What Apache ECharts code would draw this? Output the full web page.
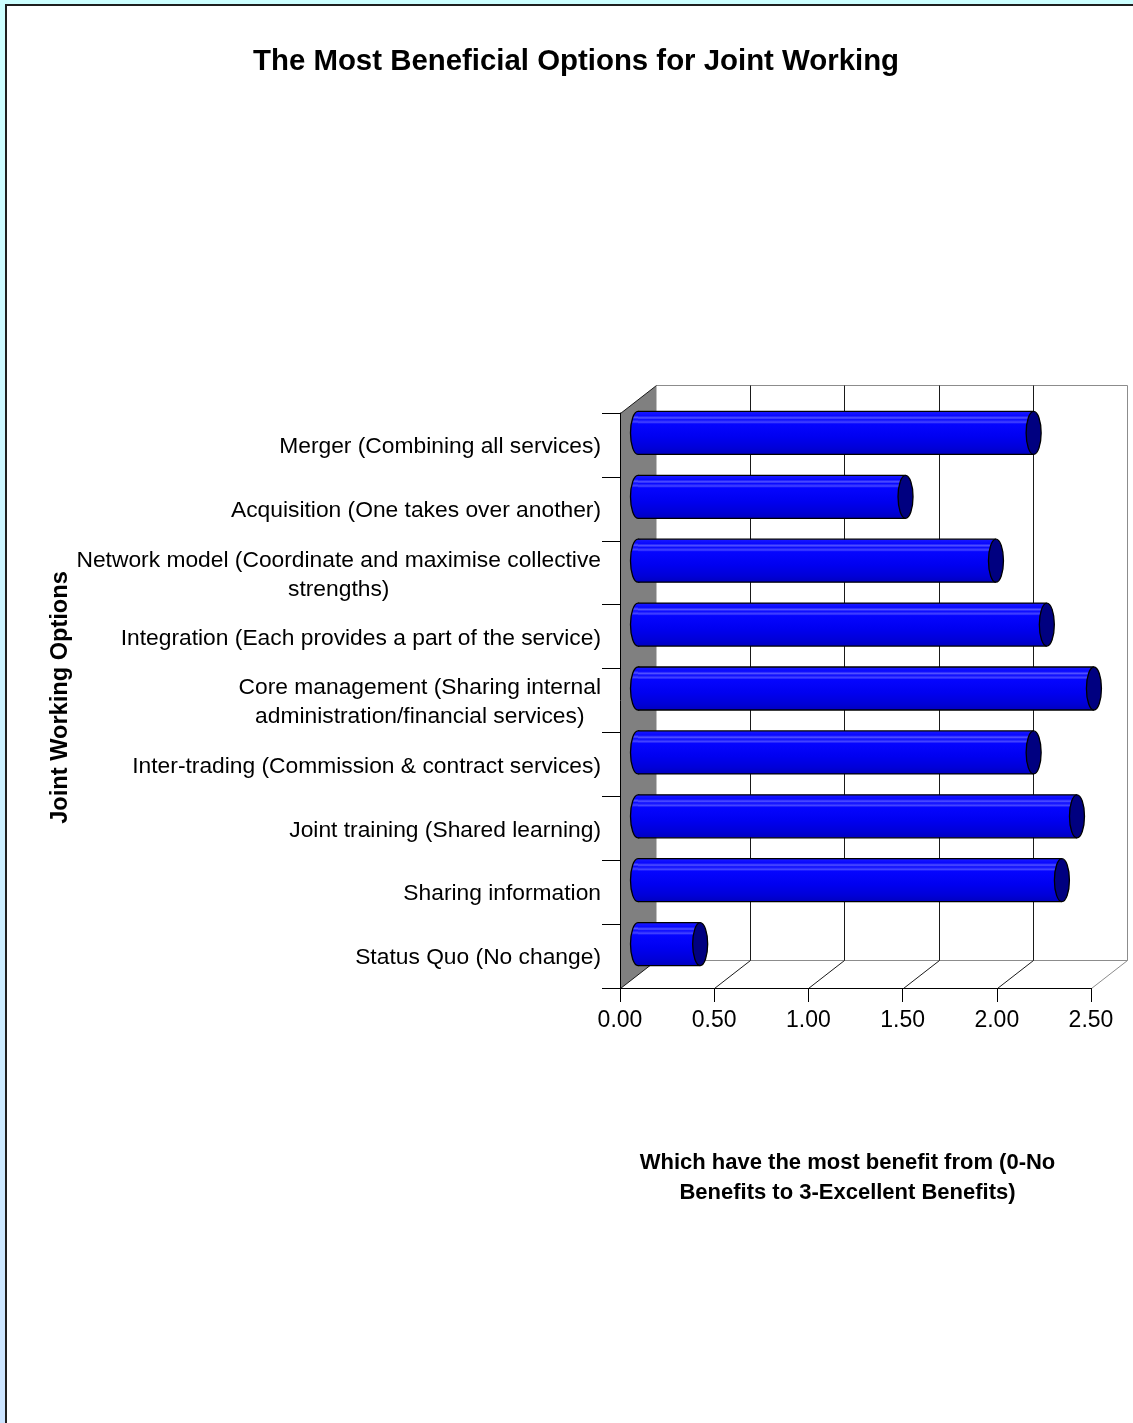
<!DOCTYPE html>
<html><head><meta charset="utf-8">
<script src="https://cdn.jsdelivr.net/npm/echarts@6/dist/echarts.min.js"></script>
<style>
html,body{margin:0;padding:0;background:#fff;}
#chart{position:absolute;left:0;top:0;width:1133px;height:1423px;}
.f{position:absolute;pointer-events:none;}
</style></head><body>
<div id="chart"></div>
<div class="f" style="left:0;top:0;width:1133px;height:4px;background:#ccffff"></div>
<div class="f" style="left:0;top:0;width:5px;height:1423px;background:linear-gradient(#ccffff,#cce4ff)"></div>
<div class="f" style="left:5px;top:4px;width:1128px;height:2px;background:#1f1f1f"></div>
<div class="f" style="left:5px;top:4px;width:2px;height:1419px;background:#1f1f1f"></div>
<script>
const titleText = 'The Most Beneficial Options for Joint Working';
const xAxisName = 'Which have the most benefit from (0-No\nBenefits to 3-Excellent Benefits)';
const yAxisName = 'Joint Working Options';
const categories = [
  'Merger (Combining all services)',
  'Acquisition (One takes over another)',
  'Network model (Coordinate and maximise collective\nstrengths)',
  'Integration (Each provides a part of the service)',
  'Core management (Sharing internal\nadministration/financial services)',
  'Inter-trading (Commission & contract services)',
  'Joint training (Shared learning)',
  'Sharing information',
  'Status Quo (No change)'
];
const values = [2.10, 1.42, 1.90, 2.17, 2.42, 2.10, 2.33, 2.25, 0.33];
const xTicks = [0, 0.5, 1, 1.5, 2, 2.5];

const FONT = '"Liberation Sans", Arial, sans-serif';
const DX = 36, DY = -28;

const chart = echarts.init(document.getElementById('chart'));

function decoItem(params, api) {
  const cs = params.coordSys;
  const v = api.value(0);
  const fx = Math.round(api.coord([v, 0])[0]) + 0.5;
  const fy = cs.y + cs.height + 0.5;
  const top = cs.y + 0.5;
  const n = params.dataIndexInside;
  const isFirst = n === 0;
  const isLast = v === xTicks[xTicks.length - 1];
  const dark = '#1a1a1a', gray = '#8c8c8c';
  const ch = [];
  if (isFirst) {
    const rx = Math.round(cs.x + cs.width) + 0.5;
    ch.push({type: 'polygon', shape: {points: [[fx, top], [fx + DX, top + DY], [fx + DX, fy + DY], [fx, fy]]}, style: {fill: '#808080'}});
    ch.push({type: 'line', shape: {x1: fx + DX, y1: top + DY, x2: rx + DX, y2: top + DY}, style: {stroke: gray, lineWidth: 1}});
    ch.push({type: 'line', shape: {x1: fx + DX, y1: fy + DY, x2: rx + DX, y2: fy + DY}, style: {stroke: gray, lineWidth: 1}});
    ch.push({type: 'line', shape: {x1: fx, y1: top, x2: fx + DX, y2: top + DY}, style: {stroke: dark, lineWidth: 1}});
  }
  ch.push({type: 'line', shape: {x1: fx, y1: fy, x2: fx + DX, y2: fy + DY}, style: {stroke: isLast ? gray : dark, lineWidth: 1}});
  if (!isFirst) {
    ch.push({type: 'line', shape: {x1: fx + DX, y1: top + DY, x2: fx + DX, y2: fy + DY}, style: {stroke: isLast ? gray : dark, lineWidth: 1}});
  }
  return {type: 'group', children: ch};
}

function barItem(params, api) {
  const v = api.value(0), idx = api.value(1);
  const s = api.coord([0, idx]);
  const e = api.coord([v, idx]);
  const h = api.size([0, 1])[1] * 0.673;
  const cy = s[1];
  const y0 = cy - h / 2;
  const RX = 7.5;
  const grad = {type: 'linear', x: 0, y: 0, x2: 0, y2: 1, colorStops: [
    {offset: 0, color: '#1a1aff'},
    {offset: 0.1, color: '#0808ff'},
    {offset: 0.15, color: '#5252ff'},
    {offset: 0.19, color: '#0a0aff'},
    {offset: 0.25, color: '#4545ff'},
    {offset: 0.29, color: '#0505ff'},
    {offset: 0.6, color: '#0000f0'},
    {offset: 0.85, color: '#0000d8'},
    {offset: 1, color: '#0000c0'}
  ]};
  return {type: 'group', children: [
    {type: 'ellipse', shape: {cx: s[0], cy: cy, rx: RX, ry: h / 2}, style: {fill: grad, stroke: '#000', lineWidth: 1.3}},
    {type: 'rect', shape: {x: s[0], y: y0, width: e[0] - s[0], height: h}, style: {fill: grad}},
    {type: 'line', shape: {x1: s[0], y1: y0, x2: e[0], y2: y0}, style: {stroke: '#000', lineWidth: 1.3}},
    {type: 'line', shape: {x1: s[0], y1: y0 + h, x2: e[0], y2: y0 + h}, style: {stroke: '#000', lineWidth: 1.3}},
    {type: 'ellipse', shape: {cx: e[0], cy: cy, rx: RX, ry: h / 2}, style: {fill: '#000080', stroke: '#000', lineWidth: 1.3}}
  ]};
}

const option = {
  animation: false,
  backgroundColor: '#ffffff',
  textStyle: {fontFamily: FONT},
  title: {
    text: titleText, left: 248, top: 42,
    textStyle: {fontFamily: FONT, fontSize: 29.4, fontWeight: 'bold', color: '#000'}
  },
  grid: [
    {left: 620, top: 413, width: 471, height: 575},
    {left: 638, top: 401, width: 471, height: 575}
  ],
  xAxis: [
    {
      type: 'value', gridIndex: 0, min: 0, max: 2.5, interval: 0.5,
      axisLine: {show: true, lineStyle: {color: '#000', width: 1}},
      axisTick: {show: true, length: 14, lineStyle: {color: '#000'}},
      axisLabel: {fontSize: 23, color: '#000', margin: 21, fontFamily: FONT, formatter: v => v.toFixed(2)},
      splitLine: {show: false},
      name: xAxisName, nameLocation: 'middle', nameGap: 160,
      nameTextStyle: {fontFamily: FONT, fontSize: 22, fontWeight: 'bold', color: '#000', lineHeight: 30, padding: [0, 16, 0, 0]}
    },
    {type: 'value', gridIndex: 1, min: 0, max: 2.5, interval: 0.5, show: false}
  ],
  yAxis: [
    {
      type: 'category', gridIndex: 0, inverse: true, data: categories,
      axisLine: {show: true, lineStyle: {color: '#000', width: 1}},
      axisTick: {show: true, length: 18, lineStyle: {color: '#000'}},
      axisLabel: {
        margin: 19, interval: 0, fontFamily: FONT, fontSize: 22.8, color: '#000', lineHeight: 29,
        padding: [4, 0, 0, 0],
        formatter: v => v.split('\n').map(s => '{c|' + s + '}').join('\n'),
        rich: {c: {align: 'center', fontFamily: FONT, fontSize: 22.8, color: '#000', lineHeight: 29}}
      },
      splitLine: {show: false},
      name: yAxisName, nameLocation: 'middle', nameRotate: 90, nameGap: 546,
      nameTextStyle: {fontFamily: FONT, fontSize: 23.6, fontWeight: 'bold', color: '#000', padding: [0, 0, 0, 6]}
    },
    {type: 'category', gridIndex: 1, inverse: true, data: categories, show: false}
  ],
  series: [
    {
      type: 'custom', name: 'frame', xAxisIndex: 0, yAxisIndex: 0, z: -1,
      data: xTicks.map(v => [v, 0]), encode: {x: 0, y: 1},
      renderItem: decoItem, silent: true, clip: false
    },
    {
      type: 'custom', name: 'benefit', xAxisIndex: 1, yAxisIndex: 1, z: 3,
      data: values.map((v, i) => [v, i]), encode: {x: 0, y: 1},
      renderItem: barItem, clip: false
    }
  ]
};
chart.setOption(option);
</script>
</body></html>
